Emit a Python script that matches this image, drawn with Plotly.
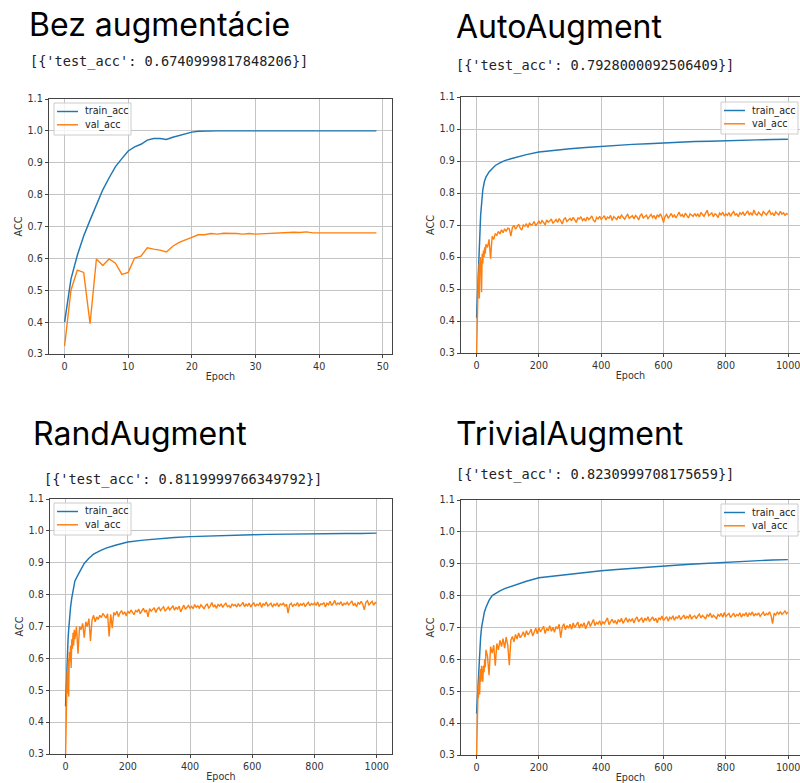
import plotly.graph_objects as go

W, H = 800, 783

# ---------------- data ----------------
titles = ["Bez augmentácie", "AutoAugment", "RandAugment", "TrivialAugment"]
test_texts = ["[{'test_acc': 0.6740999817848206}]",
              "[{'test_acc': 0.7928000092506409}]",
              "[{'test_acc': 0.8119999766349792}]",
              "[{'test_acc': 0.8230999708175659}]"]
series_names = ["train_acc", "val_acc"]

epochs_50 = list(range(50))
train_none = [0.400, 0.535, 0.610, 0.670, 0.720, 0.767, 0.815, 0.853, 0.888, 0.913,
              0.937, 0.950, 0.958, 0.971, 0.976, 0.976, 0.973, 0.980, 0.986, 0.992,
              0.996, 0.999, 1.000, 1.000, 1.000, 1.000, 1.000, 1.000, 1.000, 1.000,
              1.000, 1.000, 1.000, 1.000, 1.000, 1.000, 1.000, 1.000, 1.000, 1.000,
              1.000, 1.000, 1.000, 1.000, 1.000, 1.000, 1.000, 1.000, 1.000, 1.000]
val_none = [0.325, 0.500, 0.563, 0.556, 0.395, 0.598, 0.578, 0.598, 0.585, 0.550,
            0.556, 0.601, 0.607, 0.633, 0.629, 0.626, 0.620, 0.638, 0.650, 0.659,
            0.666, 0.674, 0.674, 0.678, 0.676, 0.679, 0.679, 0.678, 0.676, 0.678,
            0.676, 0.677, 0.679, 0.679, 0.679, 0.680, 0.682, 0.681, 0.683, 0.680,
            0.680, 0.680, 0.681, 0.681, 0.681, 0.681, 0.681, 0.680, 0.681, 0.680]

# epochs at which the 1000-epoch curves were read
epochs_train = [0, 2, 4, 6, 8, 10, 13, 16, 20, 25, 30, 40, 50, 60, 75, 90, 110, 130, 160, 200,
                250, 300, 350, 400, 450, 500, 550, 600, 650, 700, 750, 800, 850, 900, 950, 999]
epochs_val = (list(range(0, 11)) + list(range(12, 31, 2)) + list(range(35, 101, 5))
              + list(range(105, 1000, 5)) + [999])

train_auto = [0.41, 0.47, 0.53, 0.59, 0.64, 0.68, 0.73, 0.765, 0.81, 0.835, 0.85, 0.866, 0.877,
              0.886, 0.894, 0.901, 0.907, 0.913, 0.920, 0.928, 0.934, 0.938, 0.942, 0.946, 0.949,
              0.952, 0.954, 0.957, 0.959, 0.961, 0.962, 0.964, 0.965, 0.966, 0.967, 0.968]
val_auto = [0.29, 0.37, 0.41, 0.36, 0.47, 0.52, 0.55, 0.50, 0.58, 0.47, 0.56,
            0.60, 0.57, 0.49, 0.61, 0.58, 0.62, 0.60, 0.63, 0.61, 0.64,
            0.63, 0.655, 0.595, 0.665, 0.655, 0.672, 0.668, 0.68, 0.672, 0.685, 0.676, 0.688, 0.68, 0.69,
            0.688, 0.665, 0.692, 0.699, 0.687, 0.696, 0.702, 0.690, 0.684, 0.700,
            0.696, 0.704, 0.692, 0.707, 0.699, 0.703, 0.711, 0.697, 0.706, 0.712,
            0.703, 0.714, 0.708, 0.700, 0.716, 0.709, 0.713, 0.719, 0.705, 0.711,
            0.717, 0.708, 0.720, 0.713, 0.703, 0.718, 0.722, 0.711, 0.716, 0.721,
            0.713, 0.724, 0.716, 0.708, 0.722, 0.719, 0.726, 0.714, 0.720, 0.712,
            0.725, 0.717, 0.722, 0.728, 0.715, 0.709, 0.724, 0.719, 0.727, 0.718,
            0.723, 0.729, 0.716, 0.725, 0.721, 0.730, 0.714, 0.726, 0.722, 0.717,
            0.728, 0.720, 0.731, 0.724, 0.718, 0.727, 0.733, 0.721, 0.726, 0.729,
            0.719, 0.730, 0.725, 0.716, 0.729, 0.734, 0.722, 0.727, 0.731, 0.720,
            0.728, 0.733, 0.723, 0.730, 0.718, 0.732, 0.726, 0.735, 0.724, 0.708,
            0.727, 0.733, 0.721, 0.730, 0.736, 0.725, 0.731, 0.722, 0.734, 0.740,
            0.727, 0.733, 0.724, 0.737, 0.729, 0.722, 0.735, 0.730, 0.727, 0.736,
            0.728, 0.734, 0.725, 0.739, 0.731, 0.727, 0.737, 0.746, 0.729, 0.733,
            0.738, 0.726, 0.735, 0.731, 0.723, 0.737, 0.732, 0.740, 0.728, 0.735,
            0.730, 0.739, 0.727, 0.736, 0.742, 0.731, 0.735, 0.726, 0.738, 0.733,
            0.741, 0.729, 0.736, 0.744, 0.732, 0.738, 0.730, 0.747, 0.735, 0.731,
            0.740, 0.734, 0.729, 0.742, 0.736, 0.731, 0.739, 0.745, 0.733, 0.737,
            0.729, 0.741, 0.736, 0.732, 0.743, 0.734, 0.738, 0.730, 0.736, 0.733]

train_rand = [0.45, 0.52, 0.58, 0.63, 0.66, 0.69, 0.73, 0.76, 0.79, 0.82, 0.843, 0.862, 0.882,
              0.898, 0.914, 0.927, 0.937, 0.946, 0.955, 0.965, 0.971, 0.976, 0.979, 0.982, 0.984,
              0.986, 0.987, 0.988, 0.989, 0.990, 0.990, 0.991, 0.991, 0.992, 0.992, 0.993]
val_rand = [0.29, 0.38, 0.45, 0.41, 0.53, 0.56, 0.50, 0.58, 0.49, 0.60, 0.48,
            0.62, 0.59, 0.64, 0.57, 0.66, 0.63, 0.68, 0.64, 0.69, 0.66,
            0.70, 0.615, 0.70, 0.69, 0.71, 0.665, 0.715, 0.70, 0.725, 0.655, 0.72, 0.735, 0.715, 0.73,
            0.722, 0.735, 0.728, 0.741, 0.733, 0.726, 0.740, 0.669, 0.738, 0.695,
            0.744, 0.736, 0.748, 0.731, 0.743, 0.750, 0.738, 0.746, 0.733, 0.748,
            0.741, 0.752, 0.744, 0.737, 0.750, 0.746, 0.755, 0.740, 0.749, 0.757,
            0.745, 0.752, 0.730, 0.756, 0.748, 0.753, 0.759, 0.744, 0.755, 0.760,
            0.750, 0.757, 0.762, 0.748, 0.756, 0.761, 0.752, 0.758, 0.765, 0.751,
            0.760, 0.755, 0.764, 0.746, 0.759, 0.767, 0.754, 0.761, 0.766, 0.757,
            0.763, 0.756, 0.769, 0.760, 0.765, 0.758, 0.768, 0.762, 0.755, 0.766,
            0.770, 0.758, 0.764, 0.775, 0.761, 0.767, 0.757, 0.769, 0.764, 0.771,
            0.760, 0.768, 0.773, 0.762, 0.766, 0.758, 0.771, 0.765, 0.769, 0.761,
            0.772, 0.764, 0.768, 0.776, 0.762, 0.770, 0.765, 0.773, 0.761, 0.769,
            0.774, 0.763, 0.770, 0.766, 0.775, 0.760, 0.771, 0.767, 0.777, 0.764,
            0.769, 0.773, 0.761, 0.770, 0.766, 0.774, 0.762, 0.771, 0.768, 0.773,
            0.764, 0.770, 0.742, 0.768, 0.773, 0.762, 0.770, 0.766, 0.775, 0.763,
            0.771, 0.767, 0.774, 0.762, 0.770, 0.776, 0.765, 0.772, 0.768, 0.774,
            0.766, 0.777, 0.763, 0.771, 0.769, 0.775, 0.761, 0.773, 0.768, 0.779,
            0.766, 0.772, 0.782, 0.767, 0.774, 0.770, 0.778, 0.765, 0.773, 0.769,
            0.776, 0.768, 0.774, 0.780, 0.766, 0.772, 0.762, 0.775, 0.770, 0.779,
            0.770, 0.752, 0.776, 0.781, 0.768, 0.774, 0.779, 0.767, 0.775, 0.772]

train_trivial = [0.43, 0.47, 0.52, 0.56, 0.60, 0.63, 0.67, 0.70, 0.724, 0.748, 0.763, 0.785, 0.80,
                 0.807, 0.815, 0.822, 0.829, 0.836, 0.845, 0.856, 0.862, 0.868, 0.873, 0.878, 0.882,
                 0.886, 0.889, 0.893, 0.896, 0.899, 0.902, 0.905, 0.908, 0.910, 0.912, 0.913]
val_trivial = [0.29, 0.36, 0.43, 0.48, 0.45, 0.52, 0.48, 0.53, 0.50, 0.55, 0.49,
               0.57, 0.53, 0.58, 0.55, 0.53, 0.58, 0.56, 0.60, 0.575, 0.63,
               0.61, 0.55, 0.64, 0.62, 0.645, 0.58, 0.65, 0.63, 0.66, 0.64, 0.665, 0.635, 0.67, 0.645,
               0.582, 0.660, 0.672, 0.655, 0.678, 0.664, 0.683, 0.668, 0.675, 0.687,
               0.670, 0.690, 0.677, 0.684, 0.695, 0.673, 0.688, 0.698, 0.680, 0.700,
               0.686, 0.694, 0.704, 0.681, 0.697, 0.690, 0.706, 0.688, 0.700, 0.685,
               0.703, 0.696, 0.710, 0.668, 0.701, 0.712, 0.693, 0.706, 0.698, 0.710,
               0.694, 0.714, 0.700, 0.708, 0.717, 0.698, 0.711, 0.703, 0.715, 0.696,
               0.709, 0.720, 0.703, 0.714, 0.725, 0.706, 0.716, 0.711, 0.721, 0.707,
               0.718, 0.712, 0.724, 0.730, 0.709, 0.719, 0.726, 0.714, 0.722, 0.710,
               0.725, 0.717, 0.729, 0.713, 0.723, 0.731, 0.716, 0.726, 0.720, 0.728,
               0.714, 0.727, 0.733, 0.718, 0.725, 0.730, 0.716, 0.729, 0.722, 0.734,
               0.719, 0.727, 0.733, 0.721, 0.729, 0.715, 0.731, 0.725, 0.736, 0.722,
               0.730, 0.734, 0.720, 0.732, 0.727, 0.737, 0.723, 0.733, 0.729, 0.738,
               0.725, 0.733, 0.739, 0.727, 0.735, 0.730, 0.741, 0.726, 0.734, 0.737,
               0.728, 0.736, 0.742, 0.730, 0.738, 0.733, 0.727, 0.740, 0.735, 0.745,
               0.731, 0.739, 0.735, 0.728, 0.741, 0.736, 0.744, 0.732, 0.747, 0.734,
               0.740, 0.744, 0.731, 0.738, 0.745, 0.733, 0.741, 0.737, 0.746, 0.732,
               0.742, 0.738, 0.747, 0.734, 0.745, 0.740, 0.749, 0.736, 0.743, 0.739,
               0.746, 0.735, 0.742, 0.748, 0.737, 0.744, 0.740, 0.749, 0.738, 0.712,
               0.745, 0.739, 0.748, 0.742, 0.750, 0.741, 0.746, 0.752, 0.743, 0.748]

for s in (val_auto, val_rand, val_trivial):
    assert len(s) == len(epochs_val), (len(s), len(epochs_val))
for s in (train_auto, train_rand, train_trivial):
    assert len(s) == len(epochs_train)

y_ticks = [0.3, 0.4, 0.5, 0.6, 0.7, 0.8, 0.9, 1.0, 1.1]
x_ticks_50 = [0, 10, 20, 30, 40, 50]
x_ticks_1000 = [0, 200, 400, 600, 800, 1000]

# ---------------- styling ----------------
BLUE = "#1f77b4"
ORANGE = "#ff7f0e"
COLORS = [BLUE, ORANGE]
TICK_FONT = dict(family="DejaVu Sans", size=9.6, color="#333333")
SPINE = "#444444"
GRID = "#c4c4c4"


def px_x(p):
    return p / W


def px_y(p):
    return 1 - p / H


# panel boxes in pixels: (left, right, top, bottom); legend box (left, top)
panels = [
    dict(box=(49, 392, 99, 354), xr=[-2.45, 51.45], xt=x_ticks_50, right=True,
         ex=epochs_50, tr=train_none, ev=epochs_50, va=val_none, leg=(54, 103)),
    dict(box=(461, 800, 97, 353), xr=[-50, 1038], xt=x_ticks_1000, right=False,
         ex=epochs_train, tr=train_auto, ev=epochs_val, va=val_auto, leg=(721, 102)),
    dict(box=(50, 392, 499, 754), xr=[-50, 1049], xt=x_ticks_1000, right=True,
         ex=epochs_train, tr=train_rand, ev=epochs_val, va=val_rand, leg=(54, 503)),
    dict(box=(461, 800, 500, 755), xr=[-50, 1038], xt=x_ticks_1000, right=False,
         ex=epochs_train, tr=train_trivial, ev=epochs_val, va=val_trivial, leg=(721, 504)),
]

fig = go.Figure()
layout = dict(width=W, height=H, margin=dict(l=0, r=0, t=0, b=0, autoexpand=False),
              paper_bgcolor="white", plot_bgcolor="white", showlegend=False)

for i, p in enumerate(panels):
    n = "" if i == 0 else str(i + 1)
    fig.add_trace(go.Scatter(x=p["ex"], y=p["tr"], mode="lines", name=series_names[0],
                             line=dict(color=BLUE, width=1.45),
                             xaxis="x" + n, yaxis="y" + n))
    fig.add_trace(go.Scatter(x=p["ev"], y=p["va"], mode="lines", name=series_names[1],
                             line=dict(color=ORANGE, width=1.4),
                             xaxis="x" + n, yaxis="y" + n))
    l, r, t, b = p["box"]
    layout["xaxis" + n] = dict(
        domain=[px_x(l), px_x(r)], anchor="y" + n, range=p["xr"], automargin=False,
        tickvals=p["xt"], ticks="outside", ticklen=3.4, tickwidth=0.8, tickcolor=SPINE,
        showline=True, linecolor=SPINE, linewidth=0.8, mirror=True,
        showgrid=True, gridcolor=GRID, gridwidth=0.8, zeroline=False,
        tickfont=TICK_FONT, ticklabeloverflow="allow",
        title=dict(text="Epoch", font=TICK_FONT, standoff=2))
    layout["yaxis" + n] = dict(
        domain=[px_y(b), px_y(t)], anchor="x" + n, range=[0.3, 1.1], automargin=False,
        tickvals=y_ticks, tickformat=".1f", ticks="outside", ticklen=3.4, tickwidth=0.8,
        tickcolor=SPINE, showline=True, linecolor=SPINE, linewidth=0.8, mirror=p["right"],
        showgrid=True, gridcolor=GRID, gridwidth=0.8, zeroline=False,
        tickfont=TICK_FONT,
        title=dict(text="ACC", font=TICK_FONT, standoff=3))

    # matplotlib-style legend box
    lx, ly = p["leg"]
    fig.add_shape(type="rect", xref="paper", yref="paper", layer="above",
                  x0=px_x(lx), x1=px_x(lx + 77), y0=px_y(ly + 32), y1=px_y(ly),
                  line=dict(color="#cccccc", width=1), fillcolor="rgba(255,255,255,0.8)")
    for k in range(2):
        yy = ly + 8.5 + 13.3 * k
        fig.add_shape(type="line", xref="paper", yref="paper", layer="above",
                      x0=px_x(lx + 3), x1=px_x(lx + 24), y0=px_y(yy), y1=px_y(yy),
                      line=dict(color=COLORS[k], width=1.45))
        fig.add_annotation(text=series_names[k], x=px_x(lx + 29), y=px_y(yy),
                           xref="paper", yref="paper", xanchor="left", yanchor="middle",
                           showarrow=False,
                           font=dict(family="DejaVu Sans", size=9.6, color="#222222"))

fig.update_layout(**layout)

# headings and printed test accuracy
title_pos = [(27, 24.5), (454, 26), (31, 433.5), (454, 433)]
text_pos = [(28, 61.5), (454, 65), (42, 480), (454, 474)]
for i in range(4):
    tx, ty = title_pos[i]
    fig.add_annotation(text=titles[i], x=px_x(tx), y=px_y(ty), xref="paper", yref="paper",
                       xanchor="left", yanchor="middle", showarrow=False,
                       font=dict(family="Inter", size=32, color="#000000"))
    sx, sy = text_pos[i]
    fig.add_annotation(text=test_texts[i], x=px_x(sx), y=px_y(sy), xref="paper", yref="paper",
                       xanchor="left", yanchor="middle", showarrow=False,
                       font=dict(family="DejaVu Sans Mono", size=13.6, color="#222222"))

fig.write_html("out.html")
